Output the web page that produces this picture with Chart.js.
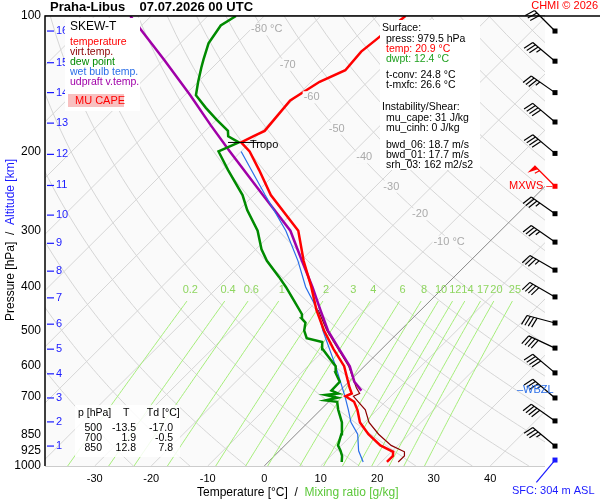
<!DOCTYPE html>
<html>
<head>
<meta charset="utf-8">
<script src="https://cdn.jsdelivr.net/npm/chart.js@4/dist/chart.umd.min.js"></script>
<style>
body { margin: 0; background: #fff; }
#wrap { width: 600px; height: 500px; }
</style>
</head>
<body>
<div id="wrap"><canvas id="c" width="600" height="500"></canvas></div>
<script>
// sounding values (p in hPa, T in °C)
const tempP = [979.5, 950, 930, 900, 850, 800, 750, 720, 700, 690, 670, 600, 550, 500, 450, 400, 350, 300, 250, 220, 200, 191, 185, 180, 165, 154, 140, 132, 120, 113, 106, 100]
const tempT = [21.0, 21.0, 20.3, 16.9, 12.8, 9.2, 6.5, 4.5, 2.0, 2.6, 1.2, -3.6, -8.5, -13.5, -18.5, -23.5, -29.5, -35.8, -47.0, -53.5, -58.5, -61.6, -60.5, -59.5, -60.0, -60.4, -58.5, -56.0, -56.5, -56.0, -55.5, -55.0]
const virtP = [979.5, 950, 930, 900, 850, 800, 750, 700, 690, 670, 600, 500, 450]
const virtT = [23.0, 23.0, 22.3, 18.8, 14.6, 10.8, 7.9, 3.4, 4.0, 2.4, -2.8, -13.0, -18.2]
const dewP = [979.5, 950, 925, 900, 850, 800, 750, 720, 715, 705, 700, 695, 690, 680, 650, 620, 600, 580, 550, 530, 520, 500, 480, 470, 460, 430, 400, 380, 350, 330, 300, 270, 250, 220, 200, 191, 185, 180, 170, 160, 150, 140, 130, 125, 115, 105, 100]
const dewT = [13.0, 12.0, 10.8, 9.4, 8.0, 6.0, 3.1, 1.5, -0.8, 0.8, -0.5, -1.8, 0.2, -1.5, -1.6, -4.0, -5.1, -7.2, -10.4, -11.8, -15.2, -17.0, -18.2, -19.6, -20.3, -24.0, -28.0, -31.0, -36.0, -39.0, -43.0, -48.5, -52.0, -59.0, -64.0, -62.0, -65.0, -66.0, -70.0, -74.0, -78.0, -80.0, -82.0, -83.0, -85.0, -86.0, -85.0]
const wetP = [979.5, 925, 850, 800, 750, 700, 600, 500, 450, 400, 350, 300, 250, 200]
const wetT = [16.8, 14.0, 10.9, 7.6, 4.9, 1.9, -5.1, -13.7, -18.3, -24.5, -30.5, -38.0, -48.0, -60.0]
const parcelP = [680, 650, 600, 550, 500, 450, 400, 350, 300, 250, 200, 175, 150, 125, 100]
const parcelT = [3.8, 1.0, -2.6, -7.5, -12.8, -17.8, -23.3, -29.8, -37.2, -48.4, -62.0, -70.0, -79.0, -90.0, -103.7]

// reference lines of the diagram
const isotherms = [-150, -140, -130, -120, -110, -100, -90, -80, -70, -60, -50, -40, -30, -20, -10, 0, 10, 20, 30, 40]
const isoLabelT = [-80, -70, -60, -50, -40, -30, -20, -10]
const isoLabelP = [106, 127, 150, 176, 204, 237, 273, 314]
const thetas = [250, 260, 270, 280, 290, 300, 310, 320, 330, 340, 350, 360, 370, 380, 390, 400, 410, 420, 430, 440, 450, 460, 470, 480, 490, 500]
const mixRatios = [0.2, 0.4, 0.6, 1, 2, 3, 4, 6, 8, 10, 12, 14, 17, 20, 25]
const pressTicks = [100, 200, 300, 400, 500, 600, 700, 850, 925, 1000]
const altKm = [1, 2, 3, 4, 5, 6, 7, 8, 9, 10, 11, 12, 13, 14, 15, 16]
const altP = [903, 798, 706, 624, 550, 484, 423, 369, 320, 277, 238, 203, 173, 148, 127, 108]
const tempTicks = [-30, -20, -10, 0, 10, 20, 30, 40]

// winds: pressure, direction [deg], speed [kt]
const windP = [970, 903, 794, 706, 621, 547, 481, 421, 367, 318, 275, 239, 202, 172, 148, 126, 108]
const windDir = [220, 310, 305, 310, 310, 295, 285, 300, 300, 305, 305, 315, 310, 310, 305, 310, 315]
const windKt = [5, 35, 40, 35, 40, 40, 40, 40, 35, 35, 35, 55, 40, 40, 35, 35, 30]

const skew = (t, p) => t + 80 * Math.log10(1000 / p)
const profile = (ps, ts) => ps.map((p, i) => ({ x: skew(ts[i], p), y: p }))

const levels = []
for (let p = 1000; p >= 100; p -= 10) levels.push(p)

const bg = []
for (const t of isotherms) {
	bg.push({ data: [{ x: skew(t, 1000), y: 1000 }, { x: skew(t, 100), y: 100 }], borderColor: t === 0 ? '#888' : '#d6d6d6', borderWidth: 1, order: 10 })
}
for (const th of thetas) {
	bg.push({ data: levels.map(p => ({ x: skew(th * Math.pow(p / 1000, 0.286) - 273.15, p), y: p })), borderColor: '#d6d6d6', borderWidth: 1, order: 10 })
}
for (const w of mixRatios) {
	const pts = []
	for (let p = 1000; p >= 430; p -= 10) {
		const e = w * p / (622 + w)
		const l = Math.log(e / 6.112)
		pts.push({ x: skew(243.5 * l / (17.67 - l), p), y: p })
	}
	bg.push({ data: pts, borderColor: '#a6ee7a', borderWidth: 1, order: 9 })
}

const main = [
	{ data: profile(parcelP, parcelT), borderColor: '#a000a8', borderWidth: 2.5, order: 4 },
	{ data: profile(wetP, wetT), borderColor: '#2a6ee8', borderWidth: 1.2, order: 3 },
	{ data: profile(dewP, dewT), borderColor: '#008a00', borderWidth: 2.5, order: 2 },
	{ data: profile(virtP, virtT), borderColor: '#8b0000', borderWidth: 1.2, order: 5 },
	{ data: profile(tempP, tempT), borderColor: '#ff0000', borderWidth: 2.5, order: 1 }
]

function drawBarb(ctx, x, y, dir, kt, color) {
	const a = (dir - 90) * Math.PI / 180
	// shaft points towards where the wind comes from
	const dx = Math.cos(a), dy = Math.sin(a)
	const len = 29
	ctx.strokeStyle = color
	ctx.fillStyle = color
	ctx.lineWidth = 1.2
	ctx.beginPath()
	ctx.moveTo(x, y)
	ctx.lineTo(x + dx * len, y + dy * len)
	ctx.stroke()
	ctx.fillRect(x - 2.5, y - 2.5, 5, 5)
	const nx = dy, ny = -dx
	let pos = len
	let rest = kt
	while (rest >= 50) {
		ctx.beginPath()
		ctx.moveTo(x + dx * pos, y + dy * pos)
		ctx.lineTo(x + dx * pos + nx * 10, y + dy * pos + ny * 10)
		ctx.lineTo(x + dx * (pos - 5), y + dy * (pos - 5))
		ctx.fill()
		pos -= 7
		rest -= 50
	}
	while (rest >= 10) {
		ctx.beginPath()
		ctx.moveTo(x + dx * pos, y + dy * pos)
		ctx.lineTo(x + dx * (pos + 3) + nx * 10, y + dy * (pos + 3) + ny * 10)
		ctx.stroke()
		pos -= 3.5
		rest -= 10
	}
	if (rest >= 5 && kt > 5) {
		ctx.beginPath()
		ctx.moveTo(x + dx * pos, y + dy * pos)
		ctx.lineTo(x + dx * (pos + 1.5) + nx * 5, y + dy * (pos + 1.5) + ny * 5)
		ctx.stroke()
	}
}

const decor = {
	id: 'decor',
	beforeDatasetsDraw(chart) {
		const { ctx, chartArea: ca } = chart
		ctx.save()
		ctx.fillStyle = '#fafafa'
		ctx.fillRect(ca.left, ca.top, ca.right - ca.left, ca.bottom - ca.top)
		ctx.restore()
	},
	afterDraw(chart) {
		const { ctx, chartArea: ca, scales } = chart
		const xs = scales.x, ys = scales.y
		ctx.save()
		ctx.font = '11px "Liberation Sans", Arial, sans-serif'
		ctx.textBaseline = 'middle'
		// isotherm labels
		ctx.textAlign = 'center'
		isoLabelT.forEach((t, i) => {
			const lbl = t === -80 || t === -10 ? t + ' °C' : String(t)
			ctx.fillStyle = '#fafafa'
			const px = xs.getPixelForValue(skew(t, isoLabelP[i])) + 14
			const py = ys.getPixelForValue(isoLabelP[i]) + 2
			const w = ctx.measureText(lbl).width
			ctx.fillRect(px - w / 2 - 1, py - 6, w + 2, 12)
			ctx.fillStyle = '#aaa'
			ctx.fillText(lbl, px, py)
		})
		// mixing ratio labels
		ctx.fillStyle = '#8fd660'
		mixRatios.forEach(w => {
			const e = w * 420 / (622 + w)
			const l = Math.log(e / 6.112)
			const px = xs.getPixelForValue(skew(243.5 * l / (17.67 - l), 420))
			ctx.fillText(String(w), px, ys.getPixelForValue(407))
		})
		// altitude ticks
		ctx.fillStyle = '#1a1aff'
		ctx.strokeStyle = '#1a1aff'
		ctx.textAlign = 'left'
		ctx.lineWidth = 1.2
		altKm.forEach((k, i) => {
			const py = ys.getPixelForValue(altP[i])
			ctx.beginPath(); ctx.moveTo(ca.left + 2, py); ctx.lineTo(ca.left + 9, py); ctx.stroke()
			ctx.fillText(String(k), ca.left + 11, py)
		})
		// frame
		ctx.strokeStyle = '#000'
		ctx.lineWidth = 1.5
		ctx.beginPath()
		ctx.moveTo(ca.left, ca.bottom); ctx.lineTo(ca.left, ca.top); ctx.lineTo(600, ca.top)
		ctx.stroke()
		// tropopause
		const ty = ys.getPixelForValue(191)
		ctx.lineWidth = 1
		ctx.beginPath(); ctx.moveTo(228, ty); ctx.lineTo(264, ty); ctx.stroke()
		ctx.fillStyle = '#000'
		ctx.fillText('Tropo', 250, ty + 3)
		// legend box
		ctx.fillStyle = '#fff'
		ctx.fillRect(65, 18, 75, 93)
		ctx.fillStyle = '#000'
		ctx.font = '12px "Liberation Sans", Arial, sans-serif'
		ctx.fillText('SKEW-T', 70, 27)
		ctx.font = '10.5px "Liberation Sans", Arial, sans-serif'
		const leg = [['temperature', '#ff0000'], ['virt.temp.', '#8b0000'], ['dew point', '#008a00'], ['wet bulb temp.', '#2a6ee8'], ['udpraft v.temp.', '#a000a8']]
		leg.forEach((l, i) => { ctx.fillStyle = l[1]; ctx.fillText(l[0], 70, 42 + i * 10) })
		ctx.fillStyle = '#f8c0c0'
		ctx.fillRect(68, 94, 56, 13)
		ctx.fillStyle = '#ff0000'
		ctx.font = '11px "Liberation Sans", Arial, sans-serif'
		ctx.fillText('MU CAPE', 75, 101)
		// surface / instability box
		ctx.fillStyle = '#fff'
		ctx.fillRect(380, 20, 100, 150)
		ctx.font = '10.5px "Liberation Sans", Arial, sans-serif'
		const info = [
			['Surface:', '#000', 382, 28], ['press: 979.5 hPa', '#000', 386, 39], ['temp: 20.9 °C', '#ff0000', 386, 49], ['dwpt: 12.4 °C', '#20a020', 386, 59],
			['t-conv: 24.8 °C', '#000', 386, 75], ['t-mxfc: 26.6 °C', '#000', 386, 85],
			['Instability/Shear:', '#000', 382, 107], ['mu_cape: 31 J/kg', '#000', 386, 118], ['mu_cinh: 0 J/kg', '#000', 386, 128],
			['bwd_06: 18.7 m/s', '#000', 386, 145], ['bwd_01: 17.7 m/s', '#000', 386, 155], ['srh_03: 162 m2/s2', '#000', 386, 165]
		]
		info.forEach(r => { ctx.fillStyle = r[1]; ctx.fillText(r[0], r[2], r[3]) })
		// table
		ctx.fillStyle = 'rgba(255,255,255,0.85)'
		ctx.fillRect(75, 405, 105, 52)
		ctx.fillStyle = '#000'
		ctx.fillText('p [hPa]    T      Td [°C]', 78, 413)
		ctx.textAlign = 'right'
		const tab = [['500', '-13.5', '-17.0'], ['700', '1.9', '-0.5'], ['850', '12.8', '7.8']]
		tab.forEach((r, i) => {
			ctx.fillText(r[0], 102, 428 + i * 10)
			ctx.fillText(r[1], 136, 428 + i * 10)
			ctx.fillText(r[2], 173, 428 + i * 10)
		})
		// winds
		windP.forEach((p, i) => {
			const col = i === 0 ? '#1a1aff' : (p === 239 ? '#ff0000' : '#000')
			drawBarb(ctx, 555, ys.getPixelForValue(p), windDir[i], windKt[i], col)
		})
		ctx.textAlign = 'left'
		ctx.fillStyle = '#ff0000'
		ctx.font = '11px "Liberation Sans", Arial, sans-serif'
		ctx.fillText('MXWS –', 509, ys.getPixelForValue(239))
		ctx.fillStyle = '#2a6ee8'
		ctx.fillText('–WBZL', 517, ys.getPixelForValue(676))
		ctx.fillStyle = '#1a1aff'
		ctx.fillText('SFC: 304 m ASL', 512, 491)
		// titles
		ctx.fillStyle = '#000'
		ctx.font = 'bold 13px "Liberation Sans", Arial, sans-serif'
		ctx.fillText('Praha-Libus    07.07.2026 00 UTC', 50, 7)
		ctx.fillStyle = '#ff0000'
		ctx.font = '11px "Liberation Sans", Arial, sans-serif'
		ctx.textAlign = 'right'
		ctx.fillText('CHMI © 2026', 598, 6)
		ctx.textAlign = 'left'
		ctx.font = '12px "Liberation Sans", Arial, sans-serif'
		const t1 = 'Temperature [°C]  /  '
		ctx.fillStyle = '#000'
		ctx.fillText(t1, 197, 493)
		ctx.fillStyle = '#5cc83a'
		ctx.fillText('Mixing ratio [g/kg]', 197 + ctx.measureText(t1).width, 493)
		ctx.translate(11, 240)
		ctx.rotate(-Math.PI / 2)
		const s1 = 'Pressure [hPa]  /  ', s2 = 'Altitude [km]'
		const w1 = ctx.measureText(s1).width, w2 = ctx.measureText(s2).width
		ctx.fillStyle = '#000'
		ctx.fillText(s1, -(w1 + w2) / 2, 0)
		ctx.fillStyle = '#1a1aff'
		ctx.fillText(s2, -(w1 + w2) / 2 + w1, 0)
		ctx.restore()
	}
}

new Chart(document.getElementById('c'), {
	type: 'line',
	data: { datasets: bg.concat(main).map(d => Object.assign({ pointRadius: 0, tension: 0, fill: false }, d)) },
	plugins: [decor],
	options: {
		responsive: false,
		animation: false,
		layout: { padding: { top: 16, right: 55, left: 0, bottom: 0 } },
		plugins: { legend: { display: false }, tooltip: { enabled: false } },
		scales: {
			x: {
				type: 'linear', min: -38.8, max: 49.7,
				afterBuildTicks: s => { s.ticks = tempTicks.map(v => ({ value: v })) },
				afterFit: s => { s.height = 34 },
				grid: { display: false },
				border: { display: false },
				ticks: { color: '#000', font: { size: 11, family: 'Liberation Sans' }, padding: -2 }
			},
			y: {
				type: 'logarithmic', reverse: true, min: 100, max: 1000,
				afterBuildTicks: s => { s.ticks = pressTicks.map(v => ({ value: v })) },
				afterFit: s => { s.width = 45 },
				grid: { color: '#9a9a9a', lineWidth: 1.5, drawTicks: false },
				border: { display: false },
				ticks: { color: '#000', font: { size: 12, family: 'Liberation Sans' }, padding: 4, callback: v => String(v) }
			}
		}
	}
}
)
</script>
</body>
</html>
